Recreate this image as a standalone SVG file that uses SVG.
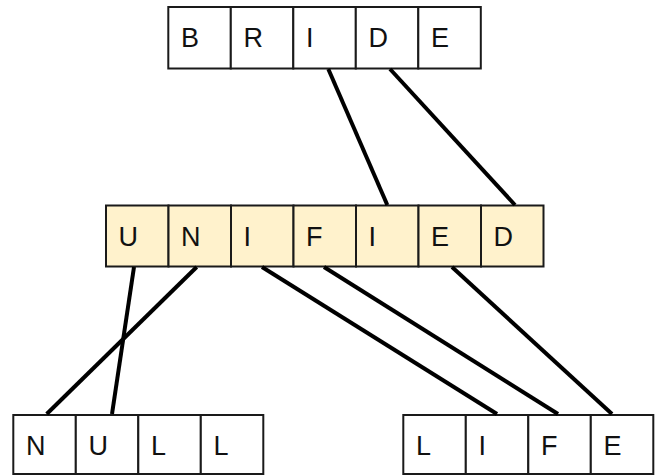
<svg xmlns="http://www.w3.org/2000/svg" width="660" height="476" viewBox="0 0 660 476">
<style>
.c{fill:#ffffff;stroke:#1a1a1a;stroke-width:2}
.y{fill:#fff2cc;stroke:#1a1a1a;stroke-width:2}
.t{font-family:"Liberation Sans",Arial,sans-serif;font-size:27px;fill:#111}
.l{stroke:#000;stroke-width:4;fill:none;stroke-linecap:butt}
</style>
<rect width="660" height="476" fill="#ffffff"/>
<g id="bride">
<rect class="c" x="168.3" y="7" width="62.5" height="61.5"/>
<rect class="c" x="230.8" y="7" width="62.5" height="61.5"/>
<rect class="c" x="293.3" y="7" width="62.5" height="61.5"/>
<rect class="c" x="355.8" y="7" width="62.5" height="61.5"/>
<rect class="c" x="418.3" y="7" width="62.5" height="61.5"/>
<text class="t" x="181" y="47">B</text>
<text class="t" x="243.5" y="47">R</text>
<text class="t" x="306" y="47">I</text>
<text class="t" x="368.5" y="47">D</text>
<text class="t" x="431" y="47">E</text>
</g>
<g id="unified">
<rect class="y" x="106" y="205.5" width="62.5" height="61"/>
<rect class="y" x="168.5" y="205.5" width="62.5" height="61"/>
<rect class="y" x="231" y="205.5" width="62.5" height="61"/>
<rect class="y" x="293.5" y="205.5" width="62.5" height="61"/>
<rect class="y" x="356" y="205.5" width="62.5" height="61"/>
<rect class="y" x="418.5" y="205.5" width="62.5" height="61"/>
<rect class="y" x="481" y="205.5" width="62.5" height="61"/>
<text class="t" x="118.5" y="246">U</text>
<text class="t" x="181" y="246">N</text>
<text class="t" x="243.5" y="246">I</text>
<text class="t" x="306" y="246">F</text>
<text class="t" x="368.5" y="246">I</text>
<text class="t" x="431" y="246">E</text>
<text class="t" x="493.5" y="246">D</text>
</g>
<g id="null">
<rect class="c" x="13.3" y="415" width="62.5" height="59"/>
<rect class="c" x="75.8" y="415" width="62.5" height="59"/>
<rect class="c" x="138.3" y="415" width="62.5" height="59"/>
<rect class="c" x="200.8" y="415" width="62.5" height="59"/>
<text class="t" x="26" y="455">N</text>
<text class="t" x="88.5" y="455">U</text>
<text class="t" x="151" y="455">L</text>
<text class="t" x="213.5" y="455">L</text>
</g>
<g id="life">
<rect class="c" x="403.3" y="415" width="62.5" height="59"/>
<rect class="c" x="465.8" y="415" width="62.5" height="59"/>
<rect class="c" x="528.3" y="415" width="62.5" height="59"/>
<rect class="c" x="590.8" y="415" width="62.5" height="59"/>
<text class="t" x="416" y="455">L</text>
<text class="t" x="478.5" y="455">I</text>
<text class="t" x="541" y="455">F</text>
<text class="t" x="603.5" y="455">E</text>
</g>
<g id="connectors">
<line class="l" x1="328.3" y1="69" x2="387.3" y2="205"/>
<line class="l" x1="390" y1="69" x2="515" y2="205"/>
<line class="l" x1="134" y1="267" x2="112" y2="414"/>
<line class="l" x1="196.7" y1="267" x2="46.7" y2="414"/>
<line class="l" x1="262" y1="267" x2="497" y2="414"/>
<line class="l" x1="324" y1="267" x2="558" y2="414"/>
<line class="l" x1="452" y1="267" x2="612" y2="414"/>
</g>
</svg>
